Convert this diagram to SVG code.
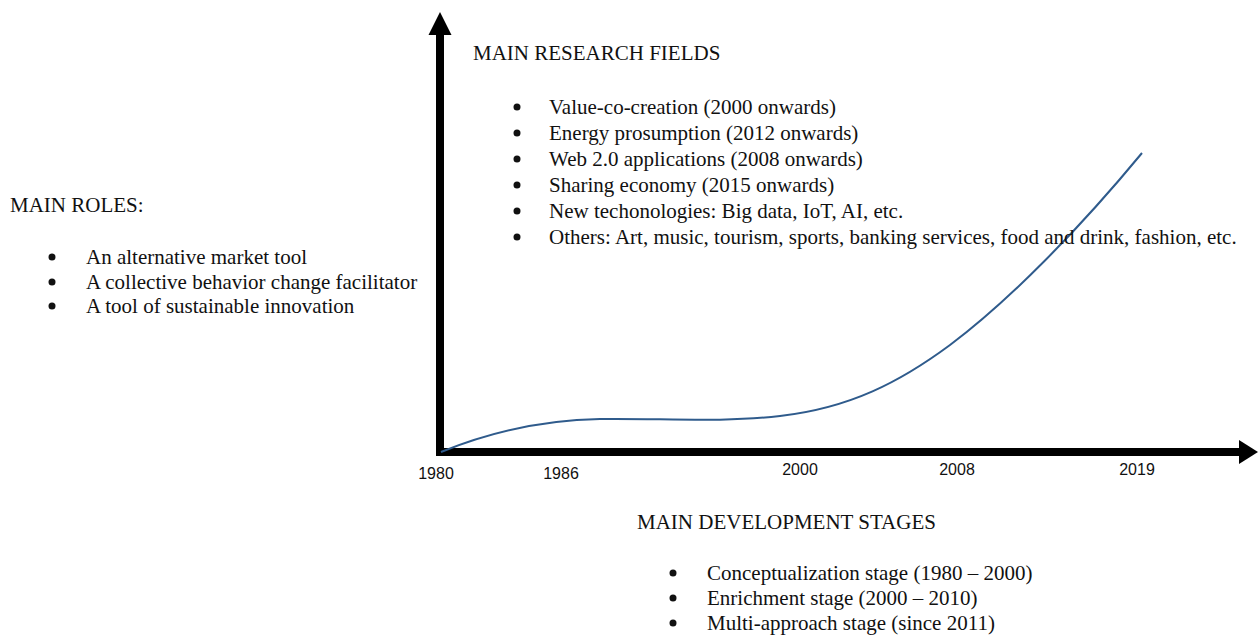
<svg xmlns="http://www.w3.org/2000/svg" width="1259" height="637" viewBox="0 0 1259 637">
  <style>
    .t { font-family: "Liberation Serif", "Times New Roman", serif; font-size: 21px; fill: #111; }
    .yr { font-family: "Liberation Sans", Arial, sans-serif; font-size: 16px; fill: #111; text-anchor: middle; }
    .dot { fill: #111; }
    .axis { stroke: #000; stroke-width: 8; fill: none; }
    .curve { stroke: #2f5b8c; stroke-width: 2; fill: none; }
  </style>
  <rect width="1259" height="637" fill="#fff"/>

  <!-- axes and growth curve -->
  <g id="connectors">
    <line class="axis" x1="440" y1="456" x2="440" y2="30"/>
    <polygon points="440,12 428.5,35 451.5,35" fill="#000"/>
    <line class="axis" x1="436" y1="452" x2="1242" y2="452"/>
    <polygon points="1258,452 1239,440 1239,464" fill="#000"/>
    <path class="curve" d="M441,452 C490,432 540,420 600,419 C660,418 720,423 780,416 C850,408 900,382 950,345 C1010,300 1080,228 1142,153"/>
  </g>

  <!-- year ticks -->
  <g id="years">
    <text class="yr" x="436" y="479">1980</text>
    <text class="yr" x="561" y="479">1986</text>
    <text class="yr" x="800" y="475">2000</text>
    <text class="yr" x="957" y="475">2008</text>
    <text class="yr" x="1137" y="475">2019</text>
  </g>

  <!-- research fields -->
  <g id="research-fields">
    <text class="t" x="473" y="60">MAIN RESEARCH FIELDS</text>
    <circle class="dot" cx="517" cy="107" r="3.5"/>
    <text class="t" x="549" y="114">Value-co-creation (2000 onwards)</text>
    <circle class="dot" cx="517" cy="133" r="3.5"/>
    <text class="t" x="549" y="140">Energy prosumption (2012 onwards)</text>
    <circle class="dot" cx="517" cy="159" r="3.5"/>
    <text class="t" x="549" y="166">Web 2.0 applications (2008 onwards)</text>
    <circle class="dot" cx="517" cy="185" r="3.5"/>
    <text class="t" x="549" y="192">Sharing economy (2015 onwards)</text>
    <circle class="dot" cx="517" cy="211" r="3.5"/>
    <text class="t" x="549" y="218">New techonologies: Big data, IoT, AI, etc.</text>
    <circle class="dot" cx="517" cy="237" r="3.5"/>
    <text class="t" x="549" y="244">Others: Art, music, tourism, sports, banking services, food and drink, fashion, etc.</text>
  </g>

  <!-- roles -->
  <g id="main-roles">
    <text class="t" x="10" y="212">MAIN ROLES:</text>
    <circle class="dot" cx="52" cy="257" r="3.5"/>
    <text class="t" x="86" y="264">An alternative market tool</text>
    <circle class="dot" cx="52" cy="282" r="3.5"/>
    <text class="t" x="86" y="289">A collective behavior change facilitator</text>
    <circle class="dot" cx="52" cy="306" r="3.5"/>
    <text class="t" x="86" y="313">A tool of sustainable innovation</text>
  </g>

  <!-- development stages -->
  <g id="development-stages">
    <text class="t" x="637" y="529">MAIN DEVELOPMENT STAGES</text>
    <circle class="dot" cx="673" cy="573" r="3.5"/>
    <text class="t" x="707" y="580">Conceptualization stage (1980 – 2000)</text>
    <circle class="dot" cx="673" cy="598" r="3.5"/>
    <text class="t" x="707" y="605">Enrichment stage (2000 – 2010)</text>
    <circle class="dot" cx="673" cy="623" r="3.5"/>
    <text class="t" x="707" y="630">Multi-approach stage (since 2011)</text>
  </g>
</svg>
